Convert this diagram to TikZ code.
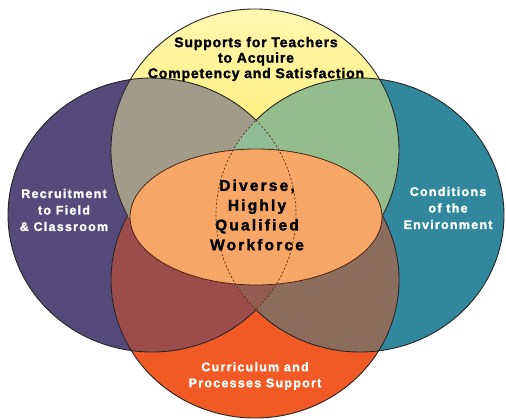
\documentclass[tikz,border=0pt]{standalone}
\usepackage{fontspec}
\setmainfont{Liberation Sans}
\newfontfamily\topfont[LetterSpace=6, BoldFeatures={FakeBold=1.5}]{Liberation Sans}
\newfontfamily\sidefont[LetterSpace=10, BoldFeatures={FakeBold=1.5}]{Liberation Sans}
\newfontfamily\midfont[LetterSpace=14, BoldFeatures={FakeBold=1.8}]{Liberation Sans}

\definecolor{purpleC}{HTML}{544B7B}
\definecolor{tealC}{HTML}{31879C}
\definecolor{orangeC}{HTML}{F15A24}
\definecolor{yellowA}{HTML}{FFF7B0}
\definecolor{yellowB}{HTML}{F9E640}
\definecolor{grayC}{HTML}{A29B89}
\definecolor{greenC}{HTML}{93BD8D}
\definecolor{redbrownC}{HTML}{9C4C4B}
\definecolor{brownC}{HTML}{8C6C5D}
\definecolor{lensTopC}{HTML}{8EBD97}
\definecolor{lensBotC}{HTML}{935B53}
\definecolor{centerC}{HTML}{F6A767}
\definecolor{lineC}{HTML}{262626}
\definecolor{dashC}{HTML}{6A3316}

\tikzset{
  edge/.style={draw=lineC, line width=0.9pt},
  lensedge/.style={draw=dashC, line width=0.8pt, dash pattern=on 2pt off 2pt},
  toplbl/.style={align=center, inner sep=0pt, text=black,
    font=\topfont\bfseries\fontsize{14}{15.5}\selectfont},
  sidelbl/.style={align=center, inner sep=0pt, text=white,
    font=\sidefont\bfseries\fontsize{12.5}{16.5}\selectfont},
  botlbl/.style={align=center, inner sep=0pt, text=white,
    font=\sidefont\bfseries\fontsize{12.5}{16}\selectfont},
  midlbl/.style={align=center, inner sep=0pt, text=black,
    font=\midfont\bfseries\fontsize{15.5}{19.8}\selectfont},
}

\begin{document}
\begin{tikzpicture}[x=1pt, y=1pt, yscale=-1]
\useasboundingbox (0,0) rectangle (506,420);

% centres of the four circles and the core ellipse
\coordinate (L) at (152,215);
\coordinate (R) at (360,215);
\coordinate (T) at (255,150);
\coordinate (B) at (255,280);
\coordinate (C) at (256,217);

% base fills
\fill[purpleC] (L) ellipse [x radius=144, y radius=137];
\fill[tealC] (R) ellipse [x radius=144, y radius=137];
\shade[left color=yellowA, right color=yellowB, shading angle=0]
  (T) ellipse [x radius=144, y radius=141];
\fill[orangeC] (B) ellipse [x radius=144, y radius=138];

% overlaps with the lower circle
\begin{scope}
  \clip (B) ellipse [x radius=144, y radius=138];
  \fill[redbrownC] (L) ellipse [x radius=144, y radius=137];
  \fill[brownC] (R) ellipse [x radius=144, y radius=137];
\end{scope}

% overlaps with the upper circle
\begin{scope}
  \clip (0,0) rectangle (506,216);
  \clip (T) ellipse [x radius=144, y radius=141];
  \fill[grayC] (L) ellipse [x radius=144, y radius=137];
  \fill[greenC] (R) ellipse [x radius=144, y radius=137];
\end{scope}

% lens shared by the left and right circles
\begin{scope}
  \clip (L) ellipse [x radius=144, y radius=137];
  \clip (R) ellipse [x radius=144, y radius=137];
  \fill[lensTopC] (0,0) rectangle (506,216);
  \fill[lensBotC] (0,216) rectangle (506,420);
\end{scope}

% outlines
\draw[edge] (L) ++(43.76:144 and 137)
  arc [start angle=43.76, end angle=316.24, x radius=144, y radius=137];
\draw[edge] (R) ++(-136.24:144 and 137)
  arc [start angle=-136.24, end angle=136.24, x radius=144, y radius=137];
\draw[edge] (T) ++(152.23:144 and 141)
  arc [start angle=152.23, end angle=387.77, x radius=144, y radius=141];
\draw[edge] (B) ++(-27.77:144 and 138)
  arc [start angle=-27.77, end angle=207.77, x radius=144, y radius=138];

% core ellipse
\fill[centerC] (C) ellipse [x radius=126, y radius=68];
\draw[draw=dashC!70!black, line width=0.8pt] (C) ellipse [x radius=126, y radius=68];

% hidden edges of the left and right circles
\draw[lensedge] (L) ++(-43.76:144 and 137)
  arc [start angle=-43.76, end angle=43.76, x radius=144, y radius=137];
\draw[lensedge] (R) ++(136.24:144 and 137)
  arc [start angle=136.24, end angle=223.76, x radius=144, y radius=137];

% labels
\node[toplbl] (ltop) at (256,59) {Supports for Teachers\\to Acquire\\Competency and Satisfaction};
\node[sidelbl] (lleft) at (64,210) {Recruitment\\to Field\\\& Classroom};
\node[sidelbl] (lright) at (448,208) {Conditions\\of the\\Environment};
\node[botlbl] (lbot) at (255,376) {Curriculum and\\Processes Support};
\node[midlbl] (lmid) at (257,215) {Diverse,\\Highly\\Qualified\\Workforce};
\end{tikzpicture}
\end{document}
